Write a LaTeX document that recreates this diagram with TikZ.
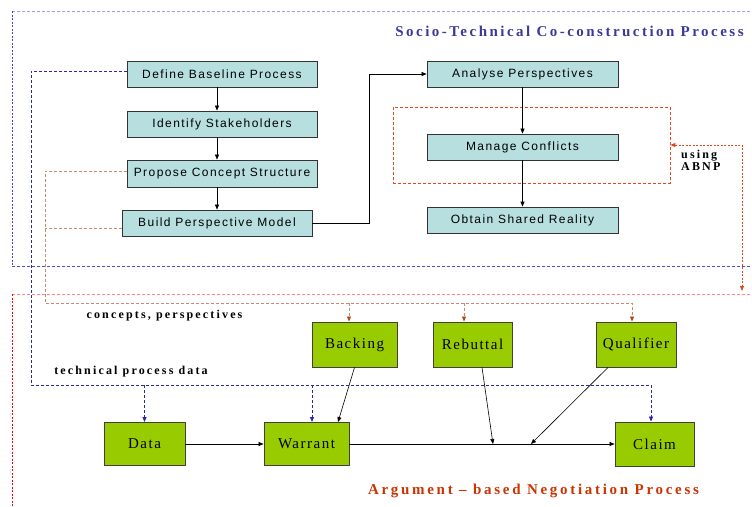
\documentclass[tikz,border=0pt]{standalone}
\usepackage{fontspec}
\setmainfont{Liberation Serif}
\newfontfamily\sansbox{Liberation Sans}[LetterSpace=12]
\newfontfamily\greenfont{Liberation Serif}[LetterSpace=10]
\newfontfamily\titlefont{Liberation Serif}[LetterSpace=16.5]
\newfontfamily\argfont{Liberation Serif}[LetterSpace=18]
\newfontfamily\lblfont{Liberation Serif}[LetterSpace=18]
\usetikzlibrary{arrows.meta}
\definecolor{cyanfill}{HTML}{B8DFE0}
\definecolor{greenfill}{HTML}{99CC00}
\definecolor{titleblue}{HTML}{3A3A98}
\definecolor{navyline}{HTML}{2828A8}
\definecolor{lavender}{HTML}{A0A0E0}
\definecolor{brownd}{HTML}{C88A6A}
\definecolor{brownarrow}{HTML}{B04A10}
\definecolor{orangered}{HTML}{E04A1A}
\definecolor{lightred}{HTML}{FF8888}
\definecolor{argred}{HTML}{CC3300}
\tikzset{
  cbox/.style={draw=black!80, fill=cyanfill, minimum width=190pt, minimum height=26pt, inner sep=0pt, font=\sansbox\fontsize{12}{14}\selectfont, line width=0.8pt},
  gbox/.style={draw=black!75, fill=greenfill, inner sep=0pt, font=\greenfont\fontsize{15}{17}\selectfont, line width=0.9pt},
  arr/.style={-{Triangle[length=5pt,width=4pt]}, line width=0.6pt},
  bluedash/.style={navyline, dash pattern=on 3pt off 2pt, line width=0.8pt},
  bluetip/.style={-{Triangle[length=5pt,width=4pt,color=navyline]}},
  browndash/.style={brownd, dash pattern=on 3pt off 2pt, line width=0.8pt},
  browntip/.style={-{Triangle[length=5pt,width=4pt,color=brownarrow]}},
  reddot/.style={orangered, dash pattern=on 2pt off 1.5pt, line width=0.8pt},
  lbl/.style={font=\lblfont\bfseries\fontsize{12}{12}\selectfont, inner sep=0pt},
}
\begin{document}
\begin{tikzpicture}[x=1pt,y=-1pt]
\useasboundingbox (0,0) rectangle (752,506);
% frames
\draw[lavender, dash pattern=on 3pt off 2pt, line width=0.7pt] (12,11) -- (752,11);
\draw[navyline!85, dash pattern=on 2pt off 1.5pt, line width=0.8pt] (12,11) -- (12,266);
\draw[navyline!80, dash pattern=on 3pt off 2pt, line width=0.7pt] (12,266) -- (752,266);
\draw[lightred, dash pattern=on 3pt off 2pt, line width=0.7pt] (12,294) -- (752,294);
\draw[red, dash pattern=on 2pt off 1.5pt, line width=0.8pt] (12,294) -- (12,506);

% top process boxes
\node[cbox] (dbp) at (222,74) {Define Baseline Process};
\node[cbox] (ids) at (222,124) {Identify Stakeholders};
\node[cbox, minimum height=27pt] (pcs) at (222,173.5) {Propose Concept Structure};
\node[cbox] (bpm) at (217,223) {Build Perspective Model};
\node[cbox, minimum width=191pt] (ap) at (522.5,74) {Analyse Perspectives};
\node[cbox, minimum width=191pt] (mc) at (522.5,147) {Manage Conflicts};
\node[cbox, minimum width=191pt] (osr) at (522.5,220) {Obtain Shared Reality};
\node[draw=orangered, dash pattern=on 3pt off 2pt, line width=0.8pt, minimum width=277pt, minimum height=76pt, inner sep=0pt] (mcbox) at (531.5,145) {};

\draw[arr] (dbp.south -| bpm.center) -- (ids.north -| bpm.center);
\draw[arr] (ids.south -| bpm.center) -- (pcs.north -| bpm.center);
\draw[arr] (pcs.south -| bpm.center) -- (bpm.north);
\draw[arr] (ap.south) -- (mc.north);
\draw[arr] (mc.south) -- (osr.north);
\draw[arr] (bpm.east) -- ++(57,0) |- (ap.west);

% green boxes
\node[gbox, minimum width=85pt, minimum height=45pt] (backing) at (354.5,344.5) {Backing};
\node[gbox, minimum width=79pt, minimum height=45pt] (rebuttal) at (472.5,344.5) {Rebuttal};
\node[gbox, minimum width=80pt, minimum height=45pt] (qual) at (636,344.5) {Qualifier};
\node[gbox, minimum width=81pt, minimum height=43pt] (data) at (144.5,444) {Data};
\node[gbox, minimum width=85pt, minimum height=43pt] (warrant) at (306.5,444) {Warrant};
\node[gbox, minimum width=79pt, minimum height=44pt] (claim) at (654.5,444) {Claim};

\coordinate (j1) at (493,444);
\coordinate (j2) at (531,444);
\draw[arr] (data) -- (warrant);
\draw[arr] (warrant) -- (claim);
\draw[arr] (backing.south) -- ([xshift=31.5pt]warrant.north);
\draw[arr] ([xshift=9.5pt]rebuttal.south) -- (j1);
\draw[arr] ([xshift=-28pt]qual.south) -- (j2);

% blue dashed: technical process data
\coordinate (tpd) at (31,385);
\draw[bluedash, bluetip] ([yshift=3pt]dbp.west) -| (tpd) -| ([xshift=-3.5pt]claim.north);
\draw[bluedash, bluetip] (data.north |- tpd) -- (data.north);
\draw[bluedash, bluetip] ([xshift=5.5pt]warrant.north |- tpd) -- ([xshift=5.5pt]warrant.north);

% brown dashed: concepts, perspectives
\coordinate (cpc) at (45,303);
\draw[browndash, browntip] ([yshift=2.5pt]pcs.west) -| (cpc) -| ([xshift=-4pt]qual.north);
\draw[browndash] ([yshift=-5pt]bpm.west) -- ([yshift=-5pt]bpm.west -| cpc);
\draw[browndash, browntip] ([xshift=-5.5pt]backing.north |- cpc) -- ([xshift=-5.5pt]backing.north);
\draw[browndash, browntip] ([xshift=-8.5pt]rebuttal.north |- cpc) -- ([xshift=-8.5pt]rebuttal.north);

% red dotted: using ABNP
\coordinate (abnp) at (742,291);
\draw[reddot, {Triangle[length=5pt,width=4pt]}-{Triangle[length=5pt,width=4pt]}] (mcbox.east) -| (abnp);

% labels
\node[font=\titlefont\bfseries\fontsize{15}{17}\selectfont, text=titleblue, inner sep=0pt] (t1) at (569.5,31) {Socio-Technical Co-construction Process};
\node[font=\argfont\bfseries\fontsize{15}{17}\selectfont, text=argred, inner sep=0pt] (t2) at (533.5,491) {Argument – based Negotiation Process};
\node[lbl] (lab1) at (164.5,316) {concepts, perspectives};
\node[lbl] (lab2) at (131,372) {technical process data};
\node[lbl, align=left, anchor=north west] (lab3) at (681,150) {using\\ABNP};
\end{tikzpicture}
\end{document}
